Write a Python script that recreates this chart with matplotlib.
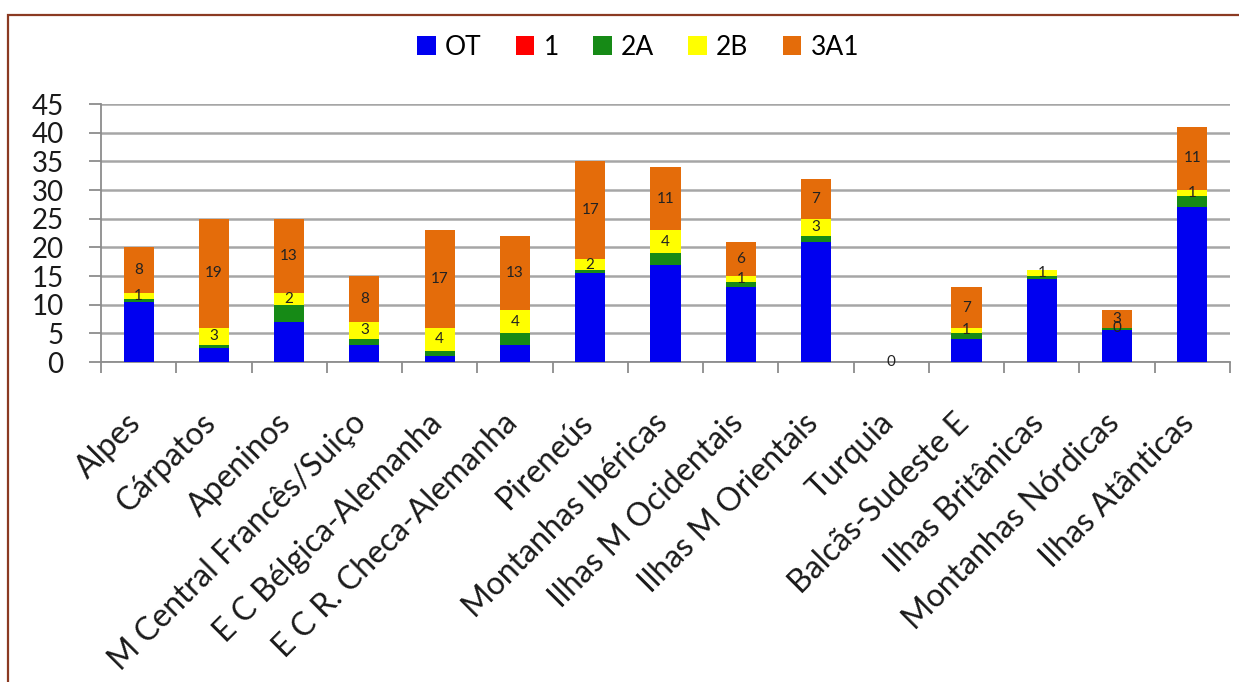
import numpy as np
import matplotlib.pyplot as plt
import matplotlib.transforms as mtransforms
from matplotlib.patches import Rectangle

plt.rcParams['font.family'] = ['Lato', 'DejaVu Sans']

regioes = ['Alpes', 'Cárpatos', 'Apeninos', 'M Central Francês/Suiço',
           'E C Bélgica-Alemanha', 'E C R. Checa-Alemanha', 'Pireneús',
           'Montanhas Ibéricas', 'Ilhas M Ocidentais', 'Ilhas M Orientais',
           'Turquia', 'Balcãs-Sudeste E', 'Ilhas Britânicas',
           'Montanhas Nórdicas', 'Ilhas Atânticas']

ot  = [10.5, 2.5, 7, 3, 1, 3, 15.5, 17, 13, 21, 0, 4, 14.5, 5.5, 27]
c1  = [0] * 15
c2a = [0.5, 0.5, 3, 1, 1, 2, 0.5, 2, 1, 1, 0, 1, 0.5, 0.5, 2]
c2b = [1, 3, 2, 3, 4, 4, 2, 4, 1, 3, 0, 1, 1, 0, 1]
c3a1 = [8, 19, 13, 8, 17, 13, 17, 11, 6, 7, 0, 7, 0, 3, 11]

series = [('OT', ot, '#0000f0'), ('1', c1, '#ff0000'), ('2A', c2a, '#168a16'),
          ('2B', c2b, '#ffff00'), ('3A1', c3a1, '#e46c0a')]

fig = plt.figure(figsize=(12.39, 6.82), dpi=100)
ax = fig.add_axes([0.0815, 0.4692, 0.9112, 0.3783])

x = np.arange(len(regioes))
base = np.zeros(len(regioes))
for nome, vals, cor in series:
    vals = np.array(vals, dtype=float)
    ax.bar(x, vals, 0.4, bottom=base, color=cor, label=nome, zorder=3)
    # rotulos de valor para 2B e 3A1
    if nome in ('2B', '3A1'):
        for i, v in enumerate(vals):
            if nome == '3A1' and v == 0:
                continue
            ax.text(x[i], base[i] + v / 2, '%d' % round(v), ha='center', va='center',
                    fontsize=11, color='#222222', zorder=4)
    base = base + vals

ax.set_xlim(-0.5, len(regioes) - 0.5)
ax.set_ylim(0, 45)
ax.set_yticks(range(0, 46, 5))
ax.yaxis.grid(True, color='#a6a6a6', linewidth=1.8, zorder=0)
ax.set_axisbelow(True)

# nomes das regioes, inclinados a 45 graus
ax.set_xticks([])
ax.set_xticks(np.arange(-0.5, len(regioes)), minor=True)
desloc = mtransforms.ScaledTranslation(-13 / 100, -46 / 100, fig.dpi_scale_trans)
for i, nome in enumerate(regioes):
    ax.text(x[i], 0, nome, rotation=45, ha='right', va='top', rotation_mode='anchor',
            fontsize=23, color='#1a1a1a', transform=ax.get_xaxis_transform() + desloc)

ax.tick_params(axis='x', which='minor', length=8, width=1.3, color='#8c8c8c', direction='out')
ax.tick_params(axis='y', length=9, width=1.3, color='#8c8c8c', labelsize=20, pad=18,
               labelcolor='#1a1a1a')

for s in ('top', 'right'):
    ax.spines[s].set_visible(False)
for s in ('left', 'bottom'):
    ax.spines[s].set_color('#8c8c8c')
    ax.spines[s].set_linewidth(1.3)

fig.legend(loc='center', bbox_to_anchor=(0.515, 0.931), ncol=5, frameon=False,
           fontsize=19, handlelength=0.7, handleheight=0.7, handletextpad=0.35,
           columnspacing=1.3)

# moldura
fig.patches.append(Rectangle((8 / 1239, -0.1), 1.2, 1.1 - 15 / 682, transform=fig.transFigure,
                             fill=False, edgecolor='#8b3a22', linewidth=1.6, zorder=10))

fig.savefig('out.png', dpi=100)
